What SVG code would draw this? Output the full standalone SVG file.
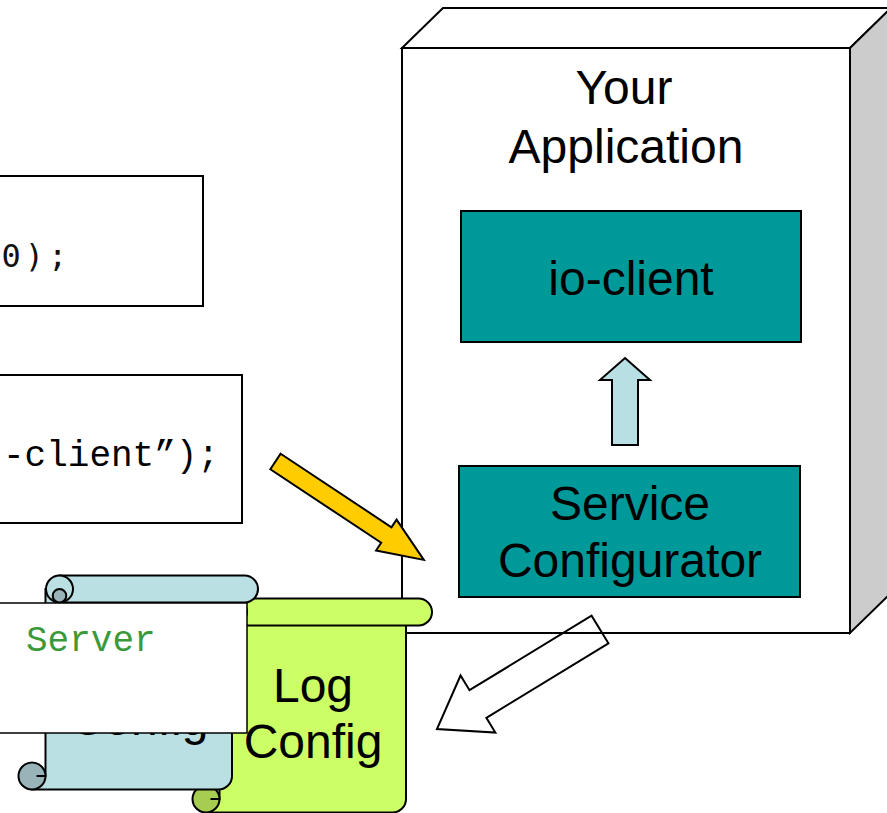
<svg xmlns="http://www.w3.org/2000/svg" xmlns:xlink="http://www.w3.org/1999/xlink" width="887" height="813" viewBox="0 0 887 813">
  <style>
    .ln { stroke: #000; stroke-width: 2; stroke-linejoin: miter; }
    .label { font-family: "Liberation Sans", Arial, sans-serif; font-size: 48px; fill: #000; text-anchor: middle; }
    .code { font-family: "Liberation Mono", "Courier New", monospace; font-size: 36px; }
    .teal { fill: #009999; stroke: #000; stroke-width: 2; }
  </style>
  <defs>
    <!-- horizontal scroll, 240 x 214; body colour from fill, curl shading from color -->
    <g id="scroll">
      <path class="ln" d="M27.5,13.5 H214 V200.5 A13.5,13.5 0 0 1 200.5,214 H14 V200.5 H27.5 Z"/>
      <circle class="ln" cx="14" cy="200.5" r="13.5" fill="currentColor"/>
      <path class="ln" fill="none" d="M27.5,200.5 H18.5"/>
      <path class="ln" d="M41.5,0 H226.5 A13.5,13.5 0 0 1 226.5,27 H41.5 Z"/>
      <circle class="ln" cx="41.5" cy="13.5" r="13.5"/>
      <circle class="ln" cx="41.5" cy="20.25" r="6.75" fill="currentColor"/>
    </g>
  </defs>

  <!-- application node: 3D box -->
  <g id="application">
    <polygon class="ln" points="402,48 443,8 891,8 850,48" fill="#fff"/>
    <polygon class="ln" points="850,48 891,8 891,593 850,633" fill="#cccccc"/>
    <rect class="ln" x="402" y="48" width="448" height="585" fill="#fff"/>
    <text class="label" x="624" y="104">Your</text>
    <text class="label" x="626" y="163">Application</text>
  </g>

  <g id="io-client">
    <rect class="teal" x="461" y="211" width="340" height="131"/>
    <text class="label" x="631" y="295">io-client</text>
  </g>

  <g id="service-configurator">
    <rect class="teal" x="459" y="466" width="341" height="131"/>
    <text class="label" x="630" y="520">Service</text>
    <text class="label" x="630" y="577">Configurator</text>
  </g>

  <!-- configuration scrolls -->
  <g id="log-config">
    <use xlink:href="#scroll" x="192" y="598.5" style="fill:#ccff66;color:#a6cc52"/>
    <text class="label" x="313" y="702">Log</text>
    <text class="label" x="313" y="758">Config</text>
  </g>

  <g id="svc-config">
    <use xlink:href="#scroll" x="18" y="575.5" style="fill:#bbe0e3;color:#98b4b9"/>
    <text class="label" x="139" y="735">Config</text>
  </g>

  <!-- code snippets -->
  <g id="code-1">
    <rect class="ln" x="-5" y="176" width="208" height="130" fill="#fff"/>
    <text x="1.5" y="267" font-family="'DejaVu Sans Mono', monospace" font-size="32" letter-spacing="4" fill="#111">0);</text>
  </g>

  <g id="code-2">
    <rect class="ln" x="-5" y="375" width="247" height="148" fill="#fff"/>
    <text class="code" x="3" y="466" fill="#000">-client”);</text>
  </g>

  <g id="code-3">
    <rect x="-5" y="603" width="252" height="130" fill="#fff" stroke="#000" stroke-width="1.5"/>
    <text class="code" x="26" y="651" fill="#3a9a3a">Server</text>
  </g>

  <!-- connectors -->
  <g id="connectors">
    <polygon class="ln" fill="#b8dfe3" points="625,358 650,380 638,380 638,445 612,445 612,380 600,380"/>
    <polygon class="ln" fill="#ffcc00" transform="translate(275.5,461.5) rotate(33.56)"
             points="0,-9.3 133,-9.3 133,-18.5 178,0 133,18.5 133,9.3 0,9.3"/>
    <polygon class="ln" fill="none" transform="translate(600,629.5) rotate(148.6)"
             points="0,-16.2 143,-16.2 143,-33.4 191,0 143,33.4 143,16.2 0,16.2"/>
  </g>
</svg>
